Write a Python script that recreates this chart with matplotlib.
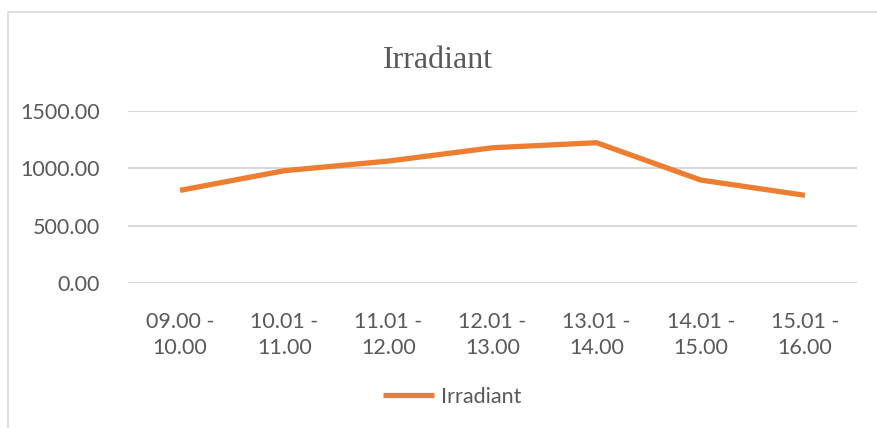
import numpy as np
import matplotlib
matplotlib.use('Agg')
from matplotlib import pyplot as plt
from matplotlib.patches import Rectangle

#%% Data
categories = ['09.00 -\n10.00', '10.01 -\n11.00', '11.01 -\n12.00', '12.01 -\n13.00',
              '13.01 -\n14.00', '14.01 -\n15.00', '15.01 -\n16.00']
irradiant = [809, 980, 1064, 1180, 1224, 899, 766]
yticks = [0, 500, 1000, 1500]

#%% Style
clr_line = '#ED7D31'
clr_grid = '#D9D9D9'
clr_text = '#595959'
tickfont = 'Lato'
fs = 15.5

fig = plt.figure(figsize=(8.77, 4.28), dpi=100)

# chart frame (light gray border, runs off the right/bottom edge)
fig.patches.append(Rectangle((8/877, -0.05), 1.0, (428-12)/428 + 0.05,
                             transform=fig.transFigure, fill=False,
                             edgecolor=clr_grid, linewidth=1.2))

ax = fig.add_axes([128/877, 144.7/428, (857-128)/877, (317-144.7)/428])

x = np.arange(len(categories))
ax.plot(x, irradiant, color=clr_line, linewidth=3.8, solid_capstyle='butt',
        solid_joinstyle='round', label='Irradiant', zorder=3)

ax.set_xlim(-0.5, len(categories) - 0.5)
ax.set_ylim(0, 1500)
ax.set_yticks(yticks)
ax.set_yticklabels([f'{v:.2f}' for v in yticks], fontsize=fs,
                   family=tickfont, color=clr_text)
ax.set_xticks(x)
ax.set_xticklabels(categories, fontsize=fs, family=tickfont, color=clr_text,
                   linespacing=1.35)
ax.tick_params(axis='both', length=0)
ax.tick_params(axis='y', pad=20)
ax.tick_params(axis='x', pad=21)
ax.grid(axis='y', color=clr_grid, linewidth=1.5, zorder=0)
for s in ax.spines.values():
    s.set_visible(False)

fig.text(438/877, 1 - 61/428, 'Irradiant', ha='center', va='center',
         fontsize=23, family='Liberation Serif', color=clr_text)

leg = fig.legend(loc='center', bbox_to_anchor=(452/877, 1 - 397/428), frameon=False,
                 prop={'family': tickfont, 'size': fs}, handlelength=2.4,
                 handletextpad=0.3)
for t in leg.get_texts():
    t.set_color(clr_text)

fig.savefig('out.png', dpi=100)
